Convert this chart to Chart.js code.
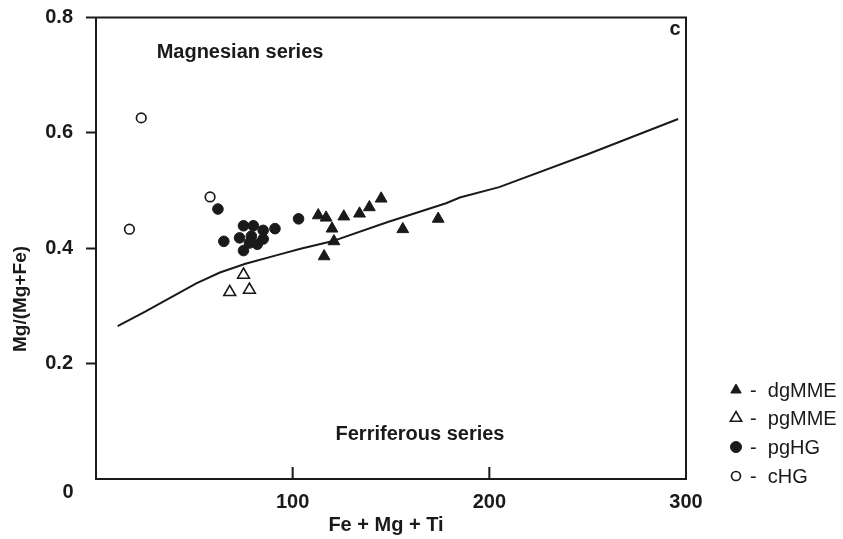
<!DOCTYPE html>
<html>
<head>
<meta charset="utf-8">
<script src="https://cdn.jsdelivr.net/npm/chart.js@4.4.0/dist/chart.umd.min.js"></script>
<style>
  html, body { margin: 0; padding: 0; background: #fff; }
</style>
</head>
<body>
<canvas id="chart" width="843" height="539"></canvas>
<script>
// data (x = Fe + Mg + Ti, y = Mg/(Mg+Fe))
const dgMME = [
  [113, 0.457], [117, 0.453], [126, 0.455], [120, 0.434], [121, 0.412],
  [116, 0.386], [134, 0.460], [139, 0.471], [145, 0.486], [156, 0.433],
  [174, 0.451]
];
const pgMME = [[75, 0.354], [68, 0.324], [78, 0.328]];
const pgHG = [
  [62, 0.468], [65, 0.412], [75, 0.439], [80, 0.439], [85, 0.431],
  [91, 0.434], [73, 0.418], [79, 0.421], [78, 0.409], [82, 0.407],
  [85, 0.416], [75, 0.396], [103, 0.451]
];
const cHG = [[23, 0.626], [17, 0.433], [58, 0.489]];
const boundary = [
  [11, 0.265], [25, 0.290], [51, 0.339], [63, 0.358], [76, 0.373],
  [93, 0.389], [104, 0.399], [120, 0.412], [148, 0.445], [178, 0.478],
  [185, 0.488], [205, 0.506], [250, 0.563], [296, 0.624]
];
const xTicks = [100, 200, 300];
const yTicks = [0.2, 0.4, 0.6, 0.8];

const INK = '#1a1a1a';
const FONT = '"Liberation Sans", Arial, sans-serif';
const pts = arr => arr.map(p => ({x: p[0], y: p[1]}));

const frame = {
  id: 'frame',
  afterDraw(chart) {
    const {ctx, chartArea: a, scales: {x}} = chart;
    ctx.save();
    ctx.strokeStyle = INK;
    ctx.lineWidth = 2;
    ctx.strokeRect(a.left, a.top, a.right - a.left, a.bottom - a.top);
    // x ticks point inward
    xTicks.slice(0, 2).forEach(v => {
      const px = x.getPixelForValue(v);
      ctx.beginPath();
      ctx.moveTo(px, a.bottom);
      ctx.lineTo(px, a.bottom - 12);
      ctx.stroke();
    });
    ctx.fillStyle = INK;
    ctx.font = 'bold 20px ' + FONT;
    ctx.textAlign = 'center';
    ctx.textBaseline = 'middle';
    ctx.fillText('0', 68, 492);
    ctx.fillText('Fe + Mg + Ti', 386, 525);
    ctx.fillText('Magnesian series', 240, 52);
    ctx.fillText('Ferriferous series', 420, 434);
    ctx.fillText('c', 675, 29);
    ctx.save();
    ctx.translate(21, 299);
    ctx.rotate(-Math.PI / 2);
    ctx.font = 'bold 19px ' + FONT;
    ctx.fillText('Mg/(Mg+Fe)', 0, 0);
    ctx.restore();

    // legend
    ctx.font = '20px ' + FONT;
    ctx.textAlign = 'left';
    const rows = [390, 418, 447, 476];
    chart.data.datasets.filter(d => d.legend).forEach((d, i) => {
      ctx.fillStyle = d.backgroundColor;
      ctx.strokeStyle = INK;
      ctx.lineWidth = d.borderWidth;
      Chart.helpers.drawPoint(ctx, {
        pointStyle: d.pointStyle, radius: d.legendRadius, borderWidth: d.borderWidth,
      }, 736, rows[i]);
      ctx.fillStyle = INK;
      ctx.fillText('-  ' + d.label, 750, rows[i] + 1);
    });
    ctx.restore();
  }
};

new Chart(document.getElementById('chart'), {
  type: 'scatter',
  data: {
    datasets: [
      {label: 'boundary', type: 'line', data: pts(boundary), borderColor: INK,
       borderWidth: 2, pointRadius: 0, tension: 0, fill: false},
      {label: 'dgMME', legend: true, data: pts(dgMME), pointStyle: 'triangle',
       pointRadius: 6.8, legendRadius: 6, backgroundColor: INK, borderColor: INK, borderWidth: 1},
      {label: 'pgMME', legend: true, data: pts(pgMME), pointStyle: 'triangle',
       pointRadius: 6.8, legendRadius: 6.5, backgroundColor: '#fff', borderColor: INK, borderWidth: 1.6},
      {label: 'pgHG', legend: true, data: pts(pgHG), pointStyle: 'circle',
       pointRadius: 5.3, legendRadius: 5.5, backgroundColor: INK, borderColor: INK, borderWidth: 1},
      {label: 'cHG', legend: true, data: pts(cHG), pointStyle: 'circle',
       pointRadius: 4.8, legendRadius: 4.5, backgroundColor: '#fff', borderColor: INK, borderWidth: 1.7}
    ]
  },
  options: {
    responsive: false,
    animation: false,
    layout: {padding: {left: 0, top: 17.5, right: 157, bottom: 0}},
    plugins: {legend: {display: false}, tooltip: {enabled: false}},
    scales: {
      x: {
        type: 'linear', min: 0, max: 300,
        afterFit: s => { s.height = 60; s.paddingLeft = 0; s.paddingRight = 0; },
        afterBuildTicks: s => { s.ticks = [0].concat(xTicks).map(v => ({value: v})); },
        border: {display: true, color: INK, width: 2},
        grid: {display: true, drawOnChartArea: false, drawTicks: false},
        ticks: {
          padding: 11, color: INK, maxRotation: 0,
          font: {family: FONT, size: 20, weight: 'bold'},
          callback: v => v === 0 ? '' : String(v)
        }
      },
      y: {
        type: 'linear', min: 0, max: 0.8,
        afterFit: s => { s.width = 96; s.paddingTop = 0; s.paddingBottom = 0; },
        afterBuildTicks: s => { s.ticks = [0].concat(yTicks).map(v => ({value: v})); },
        border: {display: true, color: INK, width: 2},
        grid: {
          display: true, drawOnChartArea: false, tickLength: 10, tickWidth: 2,
          tickColor: c => c.tick && c.tick.value === 0 ? 'rgba(0,0,0,0)' : INK
        },
        ticks: {
          padding: 13, color: INK,
          font: {family: FONT, size: 20, weight: 'bold'},
          callback: v => v === 0 ? '' : v.toFixed(1)
        }
      }
    }
  },
  plugins: [frame]
});
</script>
</body>
</html>
